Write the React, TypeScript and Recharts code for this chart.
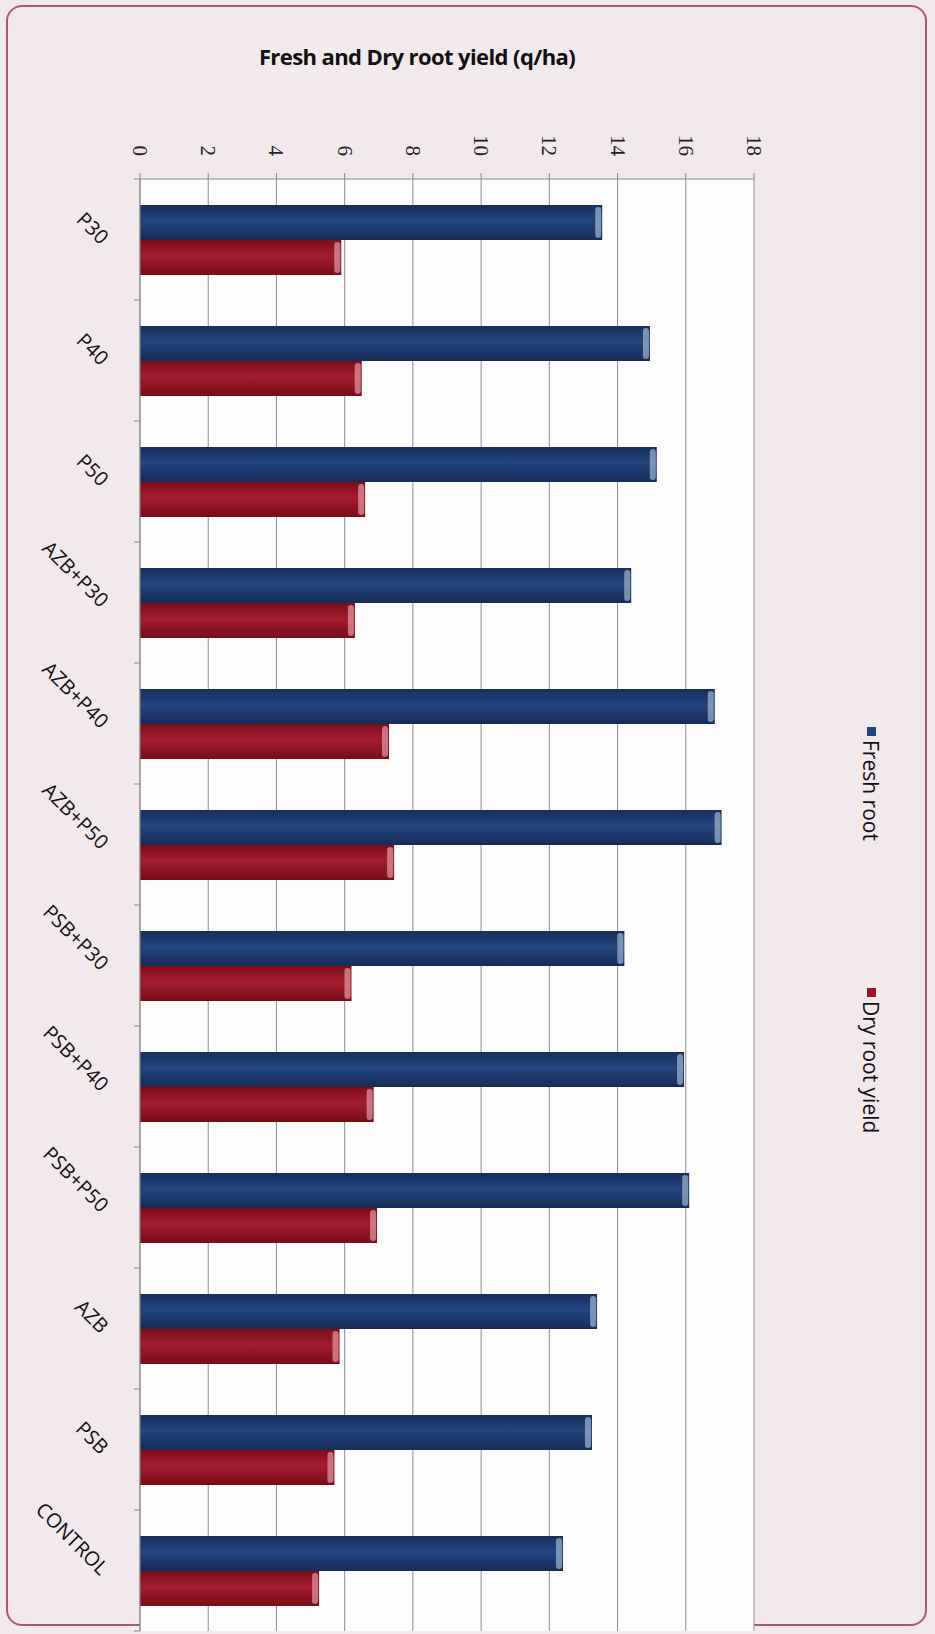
import { Bar, BarChart, CartesianGrid, XAxis, YAxis } from "recharts";

const categories = [
  "P30", "P40", "P50", "AZB+P30", "AZB+P40", "AZB+P50",
  "PSB+P30", "PSB+P40", "PSB+P50", "AZB", "PSB", "CONTROL",
];
const freshRoot = [13.55, 14.95, 15.15, 14.4, 16.85, 17.05, 14.2, 15.95, 16.1, 13.4, 13.25, 12.4];
const dryRoot = [5.9, 6.5, 6.6, 6.3, 7.3, 7.45, 6.2, 6.85, 6.95, 5.85, 5.7, 5.25];
const valueTicks = [0, 2, 4, 6, 8, 10, 12, 14, 16, 18];
const seriesNames = ["Fresh root", "Dry root yield"];

const data = categories.map((name, i) => ({ name, fresh: freshRoot[i], dry: dryRoot[i] }));

const FONT = "'Open Sans', 'Noto Sans', sans-serif";

// value ticks are printed sideways, reading downward, ending just above the axis
const ValueTick = (props: any) => {
  const { x, payload } = props;
  const ey = 156;
  return (
    <text
      x={x}
      y={ey}
      textAnchor="end"
      dominantBaseline="central"
      transform={`rotate(90 ${x} ${ey})`}
      fontFamily="'Liberation Serif', serif"
      fontSize={21}
      fill="#222"
    >
      {payload.value}
    </text>
  );
};

// category labels at 45 deg, plus the small marks at the band edges
const CategoryTick = (props: any) => {
  const { y, payload, index, visibleTicksCount } = props;
  const half = payload.offset || 60;
  const ax = 140;
  const lx = 100;
  const ly = y + 6;
  return (
    <g>
      <line x1={ax - 6} x2={ax} y1={y - half} y2={y - half} stroke="#888" />
      {index === visibleTicksCount - 1 && (
        <line x1={ax - 6} x2={ax} y1={y + half} y2={y + half} stroke="#888" />
      )}
      <text
        x={lx}
        y={ly}
        textAnchor="end"
        transform={`rotate(45 ${lx} ${ly})`}
        fontFamily={FONT}
        fontSize={20}
        fill="#111"
      >
        {payload.value}
      </text>
    </g>
  );
};

const BarShape = (props: any) => {
  const { x, y, width, height, fill, cap } = props;
  if (!width || width <= 0) return null;
  return (
    <g>
      <rect x={x} y={y} width={width} height={height} fill={fill} />
      <rect x={x + width - 7} y={y + 2} width={6} height={height - 4} rx={3} fill={cap} opacity={0.7} />
    </g>
  );
};

const legendText = {
  position: "absolute" as const,
  left: 859,
  writingMode: "vertical-rl" as const,
  fontFamily: FONT,
  fontSize: 21,
  color: "#111",
  display: "flex",
  alignItems: "center",
  lineHeight: "24px",
};

const App = () => {
  return (
    <div style={{ position: "absolute", left: 0, top: 0, width: 935, height: 1634, overflow: "hidden", background: "#f2e9ec" }}>
      <div
        style={{
          position: "absolute",
          left: 6,
          top: 5,
          width: 921,
          height: 1621,
          border: "2px solid #b4566a",
          borderRadius: 16,
          boxSizing: "border-box",
        }}
      />
      <div
        style={{
          position: "absolute",
          left: 0,
          width: 834,
          top: 41,
          textAlign: "center",
          fontFamily: FONT,
          fontWeight: 700,
          fontSize: 22,
          color: "#111",
          letterSpacing: -0.6,
        }}
      >
        Fresh and Dry root yield (q/ha)
      </div>
      <BarChart
        width={935}
        height={1634}
        data={data}
        layout="vertical"
        margin={{ top: 139, right: 181, bottom: 3, left: 40 }}
        barSize={35}
        barGap={0}
        style={{ position: "absolute", left: 0, top: 0 }}
      >
        <defs>
          <linearGradient id="gFresh" x1="0" y1="0" x2="0" y2="1">
            <stop offset="0%" stopColor="#172f5c" />
            <stop offset="45%" stopColor="#22467f" />
            <stop offset="100%" stopColor="#162c57" />
          </linearGradient>
          <linearGradient id="gDry" x1="0" y1="0" x2="0" y2="1">
            <stop offset="0%" stopColor="#7c0e1c" />
            <stop offset="45%" stopColor="#a51c2c" />
            <stop offset="100%" stopColor="#760d1a" />
          </linearGradient>
        </defs>
        <CartesianGrid horizontal={false} stroke="#8f8f8f" fill="#fdfcfc" />
        <XAxis
          type="number"
          orientation="top"
          domain={[0, 18]}
          ticks={valueTicks}
          height={40}
          tick={<ValueTick />}
          tickSize={6}
          tickLine={{ stroke: "#888" }}
          axisLine={{ stroke: "#888" }}
        />
        <YAxis
          type="category"
          dataKey="name"
          width={100}
          tick={<CategoryTick />}
          tickLine={false}
          axisLine={{ stroke: "#888" }}
          interval={0}
        />
        <Bar
          dataKey="fresh"
          name={seriesNames[0]}
          fill="url(#gFresh)"
          shape={<BarShape cap="#9fb6cf" />}
          isAnimationActive={false}
        />
        <Bar
          dataKey="dry"
          name={seriesNames[1]}
          fill="url(#gDry)"
          shape={<BarShape cap="#e39aa4" />}
          isAnimationActive={false}
        />
      </BarChart>
      <div style={{ ...legendText, top: 727 }}>
        <span style={{ display: "inline-block", width: 9, height: 9, background: "#1f4580", marginBottom: 4 }} />
        <span>{seriesNames[0]}</span>
      </div>
      <div style={{ ...legendText, top: 988 }}>
        <span style={{ display: "inline-block", width: 9, height: 9, background: "#9c1426", marginBottom: 4 }} />
        <span>{seriesNames[1]}</span>
      </div>
    </div>
  );
};

export default App;
